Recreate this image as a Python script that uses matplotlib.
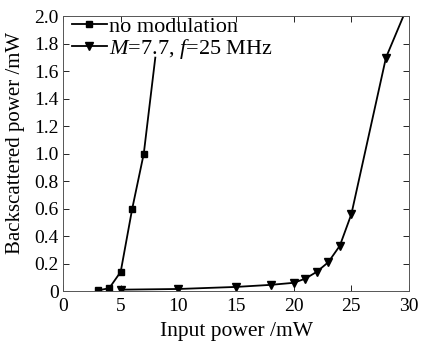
import matplotlib
matplotlib.use("Agg")
import matplotlib.pyplot as plt

plt.rcParams['font.family'] = ['Liberation Serif', 'DejaVu Serif']
plt.rcParams['mathtext.fontset'] = 'custom'
plt.rcParams['mathtext.it'] = 'Liberation Serif:italic'
plt.rcParams['mathtext.rm'] = 'Liberation Serif'

# no modulation (last point is the line end, no marker)
x_nomod = [3, 4, 5, 6, 7, 8]
y_nomod = [0.005, 0.02, 0.14, 0.6, 1.0, 1.7]

# M=7.7, f=25 MHz (last point is the line end, no marker)
x_mod = [5, 10, 15, 18, 20, 21, 22, 23, 24, 25, 28, 29.5]
y_mod = [0.01, 0.015, 0.03, 0.045, 0.06, 0.09, 0.14, 0.21, 0.33, 0.56, 1.7, 2.0]

xticks = [0, 5, 10, 15, 20, 25, 30]
yticks = [0, 0.2, 0.4, 0.6, 0.8, 1.0, 1.2, 1.4, 1.6, 1.8, 2.0]
ytick_labels = ['0', '0.2', '0.4', '0.6', '0.8', '1.0', '1.2', '1.4', '1.6', '1.8', '2.0']

fig = plt.figure(figsize=(4.23, 3.42), dpi=100)
ax = fig.add_axes([0.149, 0.149, 0.818, 0.803])

ax.plot(x_nomod, y_nomod, color='black', lw=1.3, marker='s', ms=5,
        markevery=list(range(len(x_nomod) - 1)), label='no modulation')
ax.plot(x_mod, y_mod, color='black', lw=1.3, marker='v', ms=6,
        markevery=list(range(len(x_mod) - 1)), label='$M$=7.7, $f$=25 MHz')

ax.set_xlim(0, 30)
ax.set_ylim(0, 2.0)
ax.set_xticks(xticks)
ax.set_yticks(yticks)
ax.set_yticklabels(ytick_labels)
ax.tick_params(direction='in', top=True, right=True, labelsize=14, length=4, width=0.6)
ax.tick_params(axis='x', pad=5)
ax.tick_params(axis='y', pad=3)
for s in ax.spines.values():
    s.set_linewidth(0.7)
    s.set_color('#555555')

ax.set_xlabel('Input power /mW', fontsize=15.5, labelpad=5)
ax.set_ylabel('Backscattered power /mW', fontsize=15)
ax.yaxis.set_label_coords(-0.11, 0.54)

ax.legend(loc='upper left', frameon=False, fontsize=16, handlelength=1.6,
          handletextpad=0.1, borderaxespad=0.0, labelspacing=0.0, borderpad=0.0,
          bbox_to_anchor=(0.025, 1.0))

fig.savefig('out.png', dpi=100)
